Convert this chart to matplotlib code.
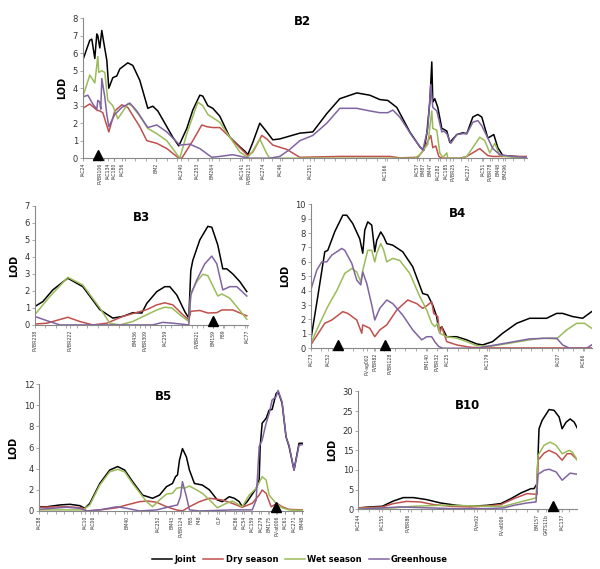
import numpy as np
import matplotlib
matplotlib.use("Agg")
import matplotlib.pyplot as plt
from matplotlib.transforms import offset_copy

# colours of the four environments (Excel 2007 palette)
colors = {"Joint": "#000000", "Dry season": "#C0504D",
          "Wet season": "#9BBB59", "Greenhouse": "#8064A2"}

# ---------------- B2 ----------------
b2_markers = ["IAC24", "PVBR106", "IAC134", "IAC180", "IAC56", "BM2", "IAC240", "IAC253",
              "BM264", "IAC141", "PVBR213", "IAC274", "IAC46", "IAC251", "IAC166", "IAC57",
              "BM87", "BM47", "IAC282", "IAC185", "PVBR25", "IAC227", "IAC51", "PVBR78",
              "BM48", "BM296"]
b2_marker_pos = [0, 17, 25, 31, 39, 73, 98, 114, 129, 159, 166, 180, 197, 227, 302, 334,
                 340, 347, 355, 363, 370, 385, 400, 407, 415, 422]
b2_joint = [(0, 5.6), (7, 6.74), (9, 6.8), (12, 5.7), (14, 7.1), (15, 7.0), (17, 6.3), (19, 7.3),
            (21, 6.6), (24, 5.6), (26, 4.0), (30, 4.6), (34, 4.7), (37, 5.1), (45, 5.45), (50, 5.3),
            (57, 4.45), (65, 2.85), (70, 2.97), (75, 2.7), (84, 1.8), (90, 1.2), (96, 0.7),
            (104, 1.7), (110, 2.75), (117, 3.6), (120, 3.55), (125, 3.0), (130, 2.85), (137, 2.4),
            (147, 1.2), (157, 0.65), (162, 0.4), (165, 0.2), (170, 0.9), (177, 2.0), (184, 1.5),
            (190, 1.05), (197, 1.1), (217, 1.43), (230, 1.5), (244, 2.55), (257, 3.4), (274, 3.73),
            (287, 3.6), (297, 3.35), (305, 3.3), (314, 2.9), (327, 1.5), (337, 0.65), (341, 0.45),
            (344, 1.4), (347, 3.2), (349, 5.5), (350, 3.2), (352, 3.4), (355, 2.9), (359, 1.7),
            (361, 1.65), (364, 1.55), (367, 0.9), (374, 1.35), (380, 1.45), (384, 1.4), (390, 2.35),
            (395, 2.5), (399, 2.35), (405, 1.15), (411, 1.35), (415, 0.6), (420, 0.15), (444, 0.05)]
b2_dry = [(0, 2.85), (7, 3.1), (14, 2.75), (17, 2.7), (20, 2.6), (26, 1.5), (32, 2.7), (39, 3.05),
          (45, 2.9), (57, 1.8), (64, 1.0), (74, 0.85), (84, 0.55), (95, 0.05), (99, 0), (110, 1.0),
          (119, 1.9), (124, 1.8), (130, 1.75), (137, 1.75), (147, 1.2), (157, 0.6), (165, 0.15),
          (170, 0.35), (179, 1.3), (184, 1.1), (190, 0.75), (204, 0.5), (217, 0.05), (257, 0.1),
          (307, 0.1), (317, 0.02), (335, 0.05), (340, 0.4), (348, 1.3), (350, 0.6), (353, 0.7),
          (356, 0.1), (359, 0), (377, 0), (384, 0.1), (397, 0.55), (405, 0.15), (410, 0.1), (444, 0.1)]
b2_wet = [(0, 3.5), (7, 4.75), (12, 4.3), (15, 5.8), (16, 4.9), (19, 5.0), (22, 4.9), (25, 3.3),
          (30, 3.0), (35, 2.25), (45, 3.1), (49, 3.0), (57, 2.4), (65, 1.7), (74, 1.4), (84, 1.0),
          (97, 0.0), (104, 1.4), (115, 3.2), (120, 3.0), (125, 2.5), (137, 2.05), (147, 1.2),
          (157, 0.35), (165, 0.05), (170, 0.4), (177, 1.1), (184, 0.25), (187, 0), (332, 0),
          (337, 0.2), (345, 0.8), (349, 2.7), (350, 1.7), (354, 1.6), (357, 0.3), (360, 0.05),
          (364, 0.3), (365, 0), (379, 0), (384, 0.1), (397, 1.2), (402, 1.0), (407, 0.3), (412, 0.85),
          (417, 0.15), (430, 0.05), (444, 0.02)]
b2_green = [(0, 3.5), (5, 3.6), (10, 3.1), (14, 2.8), (15, 3.3), (17, 3.2), (18, 2.8), (19, 4.55),
            (22, 3.5), (24, 2.5), (26, 1.8), (32, 2.5), (39, 2.9), (47, 3.15), (54, 2.7), (65, 1.75),
            (74, 1.9), (84, 1.5), (97, 0.75), (107, 0.8), (117, 0.55), (129, 0.05), (137, 0.1),
            (150, 0.2), (162, 0.05), (167, 0), (187, 0), (197, 0.1), (207, 0.5), (217, 1.0), (230, 1.3),
            (244, 2.0), (257, 2.85), (274, 2.85), (287, 2.7), (297, 2.6), (305, 2.6), (310, 2.75),
            (317, 2.35), (330, 1.2), (340, 0.45), (345, 1.7), (348, 4.2), (350, 2.9), (354, 2.7),
            (359, 1.5), (361, 1.55), (364, 1.4), (368, 0.85), (374, 1.35), (380, 1.4), (384, 1.4),
            (390, 2.05), (395, 2.15), (399, 1.85), (405, 1.15), (410, 0.55), (417, 0.2), (430, 0.1),
            (444, 0.05)]
b2_arrows = [15]

# ---------------- B3 ----------------
b3_markers = ["PVBR238", "PVBR222", "BM436", "PVBR309", "IAC259", "PVBR21", "BM159", "F89", "IAC77"]
b3_marker_pos = [0, 35, 100, 110, 130, 162, 178, 188, 212]
b3_joint = [(0, 1.08), (8, 1.37), (18, 2.06), (33, 2.75), (48, 2.25), (65, 0.9), (78, 0.4), (88, 0.5),
            (98, 0.72), (107, 0.7), (112, 1.27), (122, 1.96), (130, 2.25), (135, 2.25), (142, 1.76),
            (150, 0.78), (154, 0.4), (156, 3.2), (158, 3.8), (165, 5.0), (173, 5.8), (177, 5.75),
            (183, 4.7), (188, 3.3), (192, 3.3), (198, 3.0), (205, 2.55), (212, 1.96)]
b3_dry = [(0, 0.05), (12, 0.1), (33, 0.45), (45, 0.2), (58, 0), (72, 0.1), (88, 0.5), (100, 0.7),
          (112, 0.9), (122, 1.18), (130, 1.3), (138, 1.18), (148, 0.6), (154, 0.3), (156, 0.8),
          (165, 0.85), (173, 0.7), (182, 0.72), (187, 0.88), (198, 0.88), (212, 0.53)]
b3_wet = [(0, 0.6), (15, 1.67), (33, 2.8), (48, 2.35), (65, 1.0), (75, 0.1), (85, 0), (98, 0.2),
          (112, 0.6), (122, 0.88), (130, 1.04), (137, 1.0), (145, 0.6), (154, 0.2), (156, 1.86),
          (162, 2.55), (168, 2.98), (173, 2.9), (180, 2.06), (183, 1.7), (187, 1.82), (195, 1.57),
          (203, 1.0), (212, 0.33)]
b3_green = [(0, 0.5), (12, 0.25), (25, 0), (118, 0), (128, 0.15), (138, 0.1), (154, 0), (156, 1.76),
            (162, 2.65), (170, 3.6), (177, 4.05), (182, 3.6), (188, 2.06), (195, 2.25), (202, 2.25),
            (212, 1.7)]
b3_arrows = [178]

# ---------------- B4 ----------------
b4_markers = ["IAC73", "IAC52", "PV-ag002", "PVBR82", "PVBR128", "BM140", "PVBR32", "IAC25",
              "IAC179", "IAC07", "IAC66"]
b4_marker_pos = [0, 17, 56, 64, 79, 116, 126, 136, 176, 247, 272]
b4_joint = [(0, 0.58), (7, 3.6), (14, 6.7), (17, 6.8), (24, 8.1), (32, 9.24), (36, 9.24), (42, 8.66),
            (49, 7.6), (52, 6.6), (54, 8.2), (57, 8.78), (61, 8.55), (64, 6.7), (66, 7.5), (70, 8.08),
            (73, 7.74), (76, 7.27), (82, 7.16), (92, 6.7), (102, 5.66), (112, 3.8), (117, 3.7),
            (122, 3.0), (126, 2.2), (128, 1.27), (131, 1.5), (136, 0.8), (146, 0.8), (156, 0.58),
            (166, 0.3), (172, 0.23), (182, 0.46), (192, 1.04), (206, 1.73), (219, 2.08), (236, 2.08),
            (246, 2.42), (252, 2.42), (262, 2.2), (272, 2.08), (281, 2.54)]
b4_dry = [(0, 0.23), (14, 1.73), (21, 1.96), (32, 2.54), (37, 2.42), (46, 1.96), (51, 1.04),
          (52, 1.62), (59, 1.39), (64, 0.8), (69, 1.27), (76, 1.62), (86, 2.65), (97, 3.35),
          (106, 3.1), (112, 2.77), (117, 3.0), (121, 3.23), (123, 2.42), (127, 2.2), (129, 1.04),
          (131, 1.5), (136, 0.46), (146, 0.23), (159, 0.07), (172, 0.02), (281, 0.02)]
b4_wet = [(0, 0.35), (9, 1.73), (17, 2.9), (26, 4.0), (34, 5.2), (41, 5.54), (46, 5.3), (50, 4.6),
          (52, 5.4), (57, 6.8), (61, 6.8), (64, 6.0), (66, 6.6), (70, 7.27), (73, 6.8), (76, 6.0),
          (82, 6.24), (89, 6.1), (99, 5.2), (109, 3.6), (116, 2.65), (121, 1.73), (124, 1.5),
          (127, 1.73), (129, 1.04), (136, 0.8), (146, 0.7), (156, 0.46), (166, 0.18), (179, 0.12),
          (199, 0.35), (219, 0.58), (232, 0.7), (246, 0.65), (256, 1.27), (266, 1.73), (274, 1.73),
          (281, 1.39)]
b4_green = [(0, 4.04), (6, 5.43), (11, 6.0), (16, 6.0), (21, 6.47), (31, 6.93), (34, 6.8), (41, 5.9),
            (46, 4.73), (50, 4.4), (52, 5.3), (56, 4.5), (61, 3.0), (64, 1.96), (69, 2.77), (76, 3.35),
            (82, 3.1), (92, 2.3), (102, 1.27), (111, 0.58), (116, 0.8), (121, 0.8), (124, 0.46),
            (128, 0.12), (132, 0), (166, 0), (179, 0.16), (199, 0.4), (219, 0.65), (239, 0.7),
            (246, 0.7), (252, 0.23), (259, 0), (276, 0), (281, 0.23)]
b4_arrows = [27, 74]

# ---------------- B5 ----------------
b5_markers = ["IAC88", "IAC10", "IAC06", "BM40", "IAC252", "BM43", "PVBR124", "F85", "F48", "CLP",
              "IAC86", "IAC54", "IAC159", "IAC279", "BM175", "PV-at006", "IAC61", "IAC271", "BM48"]
b5_marker_pos = [0, 46, 54, 88, 119, 134, 143, 153, 161, 181, 198, 206, 214, 223, 231, 239, 247,
                 256, 264]
b5_joint = [(0, 0.4), (8, 0.4), (21, 0.57), (31, 0.63), (41, 0.5), (46, 0.25), (51, 0.72), (61, 2.6),
            (71, 3.87), (79, 4.2), (86, 3.87), (94, 2.77), (104, 1.5), (114, 1.2), (121, 1.5),
            (128, 2.3), (134, 2.6), (137, 3.24), (139, 3.4), (141, 4.8), (144, 5.9), (148, 5.1),
            (151, 3.87), (156, 2.6), (164, 2.45), (171, 2.0), (179, 1.04), (184, 0.88), (191, 1.35),
            (196, 1.2), (201, 0.88), (204, 0.4), (209, 0.88), (218, 2.14), (221, 2.93), (222, 6.1),
            (224, 8.3), (228, 8.76), (231, 9.54), (234, 9.6), (238, 11.1), (240, 11.3), (244, 10.2),
            (248, 7.0), (251, 6.1), (256, 3.87), (261, 6.4), (265, 6.4)]
b5_dry = [(0, 0.35), (28, 0.4), (43, 0.3), (48, 0), (61, 0.1), (78, 0.3), (88, 0.57), (101, 0.88),
          (109, 0.94), (118, 0.82), (128, 0.4), (138, 0.1), (144, 0), (151, 0.4), (161, 0.88),
          (171, 1.2), (184, 1.04), (194, 0.72), (204, 0.35), (214, 0.72), (221, 1.5), (224, 1.98),
          (228, 1.67), (233, 0.4), (239, 0.72), (244, 0.4), (251, 0.15), (265, 0.1)]
b5_wet = [(0, 0.1), (44, 0.1), (51, 0.57), (61, 2.45), (71, 3.7), (79, 3.94), (86, 3.7), (94, 2.6),
          (108, 0.88), (114, 0.4), (121, 1.04), (128, 1.6), (134, 1.67), (138, 2.14), (143, 2.24),
          (146, 2.14), (151, 2.36), (158, 2.0), (164, 1.67), (173, 0.88), (179, 0.3), (188, 0.72),
          (194, 0.94), (201, 0.57), (204, 0.4), (211, 1.5), (218, 2.14), (224, 3.24), (228, 2.93),
          (231, 1.5), (238, 0.72), (244, 0.3), (251, 0.1), (265, 0.05)]
b5_green = [(0, 0.16), (28, 0.35), (41, 0.25), (48, 0), (61, 0.1), (78, 0.4), (88, 0.25), (101, 0),
            (118, 0.1), (131, 0.4), (139, 0.57), (142, 1.35), (144, 2.77), (148, 1.35), (151, 0.1),
            (161, 0), (194, 0.1), (214, 0.1), (218, 1.04), (221, 6.1), (224, 6.7), (228, 8.3),
            (231, 9.2), (234, 10.5), (238, 10.8), (240, 11.4), (244, 10.3), (248, 7.0), (251, 6.2),
            (256, 3.87), (261, 6.2), (265, 6.3)]
b5_arrows = [238]

# ---------------- B10 ----------------
b10_markers = ["IAC244", "IAC155", "PVBR86", "PVm02", "PV-at006", "BM157", "GATS11b", "IAC137"]
b10_marker_pos = [0, 24, 50, 118, 143, 178, 187, 203]
b10_joint = [(0, 0.34), (12, 0.6), (24, 0.76), (35, 2.1), (45, 2.97), (55, 2.97), (68, 2.46),
             (82, 1.6), (98, 1.0), (112, 0.76), (128, 1.0), (142, 1.44), (152, 2.7), (162, 4.15),
             (172, 5.25), (175, 5.25), (178, 6.5), (180, 20.5), (183, 22.6), (190, 25.4), (195, 25.2),
             (200, 23.5), (203, 20.5), (207, 22.2), (211, 23.0), (215, 22.2), (218, 20.7)]
b10_dry = [(0, 0.34), (24, 0.6), (35, 1.44), (48, 2.0), (62, 1.86), (75, 1.19), (92, 0.76), (112, 0.6),
           (128, 0.85), (142, 1.19), (155, 2.7), (168, 3.98), (178, 3.8), (179, 12.5), (185, 14.3),
           (190, 15.0), (197, 14.15), (203, 12.5), (208, 14.15), (212, 14.15), (218, 12.6)]
b10_wet = [(0, 0.17), (35, 0.34), (55, 0.76), (82, 1.0), (102, 0.93), (128, 0.76), (145, 0.76),
           (155, 1.44), (168, 2.3), (177, 2.88), (179, 13.7), (185, 16.3), (191, 17.1), (197, 16.3),
           (203, 14.15), (210, 15.0), (213, 14.6), (218, 12.6)]
b10_green = [(0, 0), (42, 0.6), (62, 0.42), (92, 0.17), (128, 0.17), (145, 0.34), (155, 1.0),
             (168, 1.6), (177, 1.86), (179, 8.9), (185, 9.9), (190, 10.2), (197, 9.5), (203, 7.4),
             (211, 9.2), (218, 8.9)]
b10_arrows = [194]


def drawPanel(ax, title, curves, markers, marker_pos, arrows, xmax, ymax, ystep, title_xy, tick_step):
    # draw the four LOD profiles of one linkage group
    for name, pts in zip(colors.keys(), curves):
        x, y = zip(*pts)
        ax.plot(x, y, color=colors[name], lw=1.1, label=name, solid_joinstyle="round")
    # QTL arrows sit on top of the x axis
    up = offset_copy(ax.transData, fig=ax.figure, y=2.6, units="points")
    ax.plot(arrows, [0] * len(arrows), marker="^", ls="none", color="black",
            markersize=7, clip_on=False, zorder=5, transform=up)
    ax.set_xlim(0, xmax)
    ax.set_ylim(0, ymax)
    ax.set_yticks(np.arange(0, ymax + 0.01, ystep))
    ax.set_xticks(marker_pos)
    ax.set_xticklabels(markers, rotation=90, fontsize=3.3, color="#333333")
    ax.set_xticks(np.arange(0, xmax, tick_step), minor=True)
    ax.tick_params(axis="x", which="both", length=2, width=0.5, color="#888888", pad=1.5)
    ax.tick_params(axis="y", length=2, width=0.5, color="#888888", labelsize=6, labelcolor="#333333", pad=1.5)
    for s in ["top", "right"]:
        ax.spines[s].set_visible(False)
    for s in ["left", "bottom"]:
        ax.spines[s].set_color("#888888")
        ax.spines[s].set_linewidth(0.8)
    ax.set_ylabel("LOD", fontsize=7, fontweight="bold", labelpad=4)
    ax.text(title_xy[0], title_xy[1], title, transform=ax.transAxes, fontsize=8.5,
            fontweight="bold", ha="left", va="top")


fig = plt.figure(figsize=(6, 5.69), dpi=100)

ax2 = fig.add_axes([0.138, 0.722, 0.74, 0.246])
drawPanel(ax2, "B2", [b2_joint, b2_dry, b2_wet, b2_green], b2_markers, b2_marker_pos, b2_arrows,
          444, 8, 1, (0.475, 1.02), 10.5)

ax3 = fig.add_axes([0.058, 0.429, 0.355, 0.209])
drawPanel(ax3, "B3", [b3_joint, b3_dry, b3_wet, b3_green], b3_markers, b3_marker_pos, b3_arrows,
          213, 7, 1, (0.46, 0.96), 10.5)

ax4 = fig.add_axes([0.518, 0.388, 0.468, 0.253])
drawPanel(ax4, "B4", [b4_joint, b4_dry, b4_wet, b4_green], b4_markers, b4_marker_pos, b4_arrows,
          281, 10, 1, (0.49, 0.98), 10.5)

ax5 = fig.add_axes([0.065, 0.102, 0.44, 0.223])
drawPanel(ax5, "B5", [b5_joint, b5_dry, b5_wet, b5_green], b5_markers, b5_marker_pos, b5_arrows,
          265, 12, 2, (0.44, 0.95), 8.5)

ax10 = fig.add_axes([0.597, 0.105, 0.365, 0.207])
drawPanel(ax10, "B10", [b10_joint, b10_dry, b10_wet, b10_green], b10_markers, b10_marker_pos,
          b10_arrows, 218, 30, 5, (0.44, 0.94), 10.5)

handles, labels = ax2.get_legend_handles_labels()
fig.legend(handles, labels, loc="lower center", bbox_to_anchor=(0.5, -0.005), ncol=4,
           frameon=False, prop={"size": 6, "weight": "bold"}, handlelength=2.4,
           columnspacing=0.8, handletextpad=0.3)

plt.savefig("out.png", dpi=100)
plt.close()
